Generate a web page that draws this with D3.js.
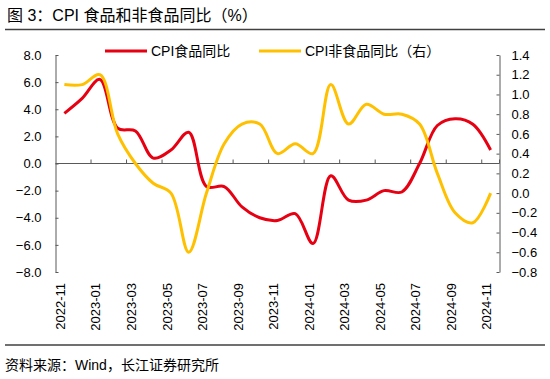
<!DOCTYPE html>
<html>
<head>
<meta charset="utf-8">
<script src="https://cdn.jsdelivr.net/npm/d3@7"></script>
<style>
  html, body { margin: 0; padding: 0; background: #fff; }
  svg { display: block; }
  text { font-family: "Liberation Sans", Arial, "Noto Sans CJK SC", sans-serif; fill: #000; }
</style>
</head>
<body>
<svg id="chart" width="550" height="379"></svg>
<script>
// ---- data ----
const months = ["2022-11","2022-12","2023-01","2023-02","2023-03","2023-04","2023-05","2023-06","2023-07","2023-08","2023-09","2023-10","2023-11","2023-12","2024-01","2024-02","2024-03","2024-04","2024-05","2024-06","2024-07","2024-08","2024-09","2024-10","2024-11"];
const foodYoY = [3.7, 4.8, 6.2, 2.6, 2.4, 0.4, 1.0, 2.3, -1.7, -1.7, -3.2, -4.0, -4.2, -3.7, -5.9, -0.9, -2.7, -2.7, -2.0, -2.1, 0.0, 2.8, 3.3, 2.9, 1.0];
const nonFoodYoY = [1.1, 1.1, 1.2, 0.6, 0.3, 0.1, 0.0, -0.6, 0.0, 0.5, 0.7, 0.7, 0.4, 0.5, 0.4, 1.1, 0.7, 0.9, 0.8, 0.8, 0.7, 0.2, -0.2, -0.3, 0.0];
const leftTicks = [8, 6, 4, 2, 0, -2, -4, -6, -8];
const rightTicks = [1.4, 1.2, 1.0, 0.8, 0.6, 0.4, 0.2, 0.0, -0.2, -0.4, -0.6, -0.8];
const seriesNames = ["CPI食品同比", "CPI非食品同比（右）"];
const titleText = "图 3：CPI 食品和非食品同比（%）";
const sourceText = "资料来源：Wind，长江证券研究所";

// ---- layout ----
const svg = d3.select("#chart");
const plot = { left: 55.5, right: 499.5, top: 55, bottom: 272 };
const colors = { food: "#E60012", nonFood: "#FFC000", axis: "#595959" };

const x = d3.scaleBand().domain(months).range([plot.left, plot.right]).padding(0);
const yL = d3.scaleLinear().domain([-8, 8]).range([plot.bottom, plot.top]);
const yR = d3.scaleLinear().domain([-0.8, 1.4]).range([plot.bottom, plot.top]);

// title
svg.append("text").attr("x", 7).attr("y", 21).attr("font-size", 16).text(titleText);
svg.append("line").attr("x1", 5).attr("x2", 545).attr("y1", 29.5).attr("y2", 29.5)
  .attr("stroke", "#404040").attr("stroke-width", 1.5);

// left axis
const gL = svg.append("g").attr("transform", `translate(${plot.left},0)`)
  .call(d3.axisLeft(yL).tickValues(leftTicks).tickFormat(d3.format(".1f")).tickSizeInner(-3).tickSizeOuter(0).tickPadding(14));
gL.select(".domain").attr("stroke", colors.axis);
gL.selectAll(".tick line").attr("stroke", colors.axis);
gL.selectAll(".tick text").attr("font-size", 13).attr("font-family", "Liberation Sans, Arial, sans-serif").attr("fill", "#000");

// right axis
const gR = svg.append("g").attr("transform", `translate(${plot.right},0)`)
  .call(d3.axisRight(yR).tickValues(rightTicks).tickFormat(d3.format(".1f")).tickSizeInner(-3).tickSizeOuter(0).tickPadding(12));
gR.select(".domain").attr("stroke", colors.axis);
gR.selectAll(".tick line").attr("stroke", colors.axis);
gR.selectAll(".tick text").attr("font-size", 13).attr("font-family", "Liberation Sans, Arial, sans-serif").attr("fill", "#000");

// x axis at zero of left scale
const y0 = yL(0);
const gX = svg.append("g").attr("transform", `translate(0,${y0})`);
gX.append("line").attr("x1", plot.left).attr("x2", plot.right).attr("y1", 0).attr("y2", 0)
  .attr("stroke", colors.axis).attr("stroke-width", 1);
months.forEach((m, i) => {
  if (i % 2 === 0 && i > 0) {
    const xb = x(m);
    gX.append("line").attr("x1", xb).attr("x2", xb).attr("y1", -4).attr("y2", 0)
      .attr("stroke", colors.axis);
  }
});
gX.append("line").attr("x1", plot.right).attr("x2", plot.right).attr("y1", -4).attr("y2", 0).attr("stroke", colors.axis);

// x labels (every other month), rotated
const labelG = svg.append("g");
months.forEach((m, i) => {
  if (i % 2 === 0) {
    const cx = x(m) + x.bandwidth() / 2 - 4;
    labelG.append("text")
      .attr("transform", `translate(${cx},283) rotate(-90)`)
      .attr("text-anchor", "end")
      .attr("dy", "0.35em")
      .attr("font-size", 13)
      .text(m);
  }
});

// lines
const lineL = d3.line().x((d, i) => x(months[i]) + x.bandwidth() / 2).y(d => yL(d)).curve(d3.curveCatmullRom.alpha(0.5));
const lineR = d3.line().x((d, i) => x(months[i]) + x.bandwidth() / 2).y(d => yR(d)).curve(d3.curveCatmullRom.alpha(0.5));

svg.append("path").datum(foodYoY).attr("d", lineL)
  .attr("fill", "none").attr("stroke", colors.food).attr("stroke-width", 3).attr("stroke-linejoin", "round");
svg.append("path").datum(nonFoodYoY).attr("d", lineR)
  .attr("fill", "none").attr("stroke", colors.nonFood).attr("stroke-width", 3).attr("stroke-linejoin", "round");

// legend
const legend = svg.append("g");
const legendItems = [
  { name: seriesNames[0], color: colors.food, x: 105 },
  { name: seriesNames[1], color: colors.nonFood, x: 259 }
];
legendItems.forEach(it => {
  legend.append("line").attr("x1", it.x).attr("x2", it.x + 42).attr("y1", 51).attr("y2", 51)
    .attr("stroke", it.color).attr("stroke-width", 3);
  legend.append("text").attr("x", it.x + 46).attr("y", 56).attr("font-size", 14).text(it.name);
});

// bottom rule and source
svg.append("line").attr("x1", 5).attr("x2", 545).attr("y1", 345).attr("y2", 345)
  .attr("stroke", "#404040").attr("stroke-width", 1.5);
svg.append("text").attr("x", 5).attr("y", 370).attr("font-size", 14).text(sourceText);
</script>
</body>
</html>
